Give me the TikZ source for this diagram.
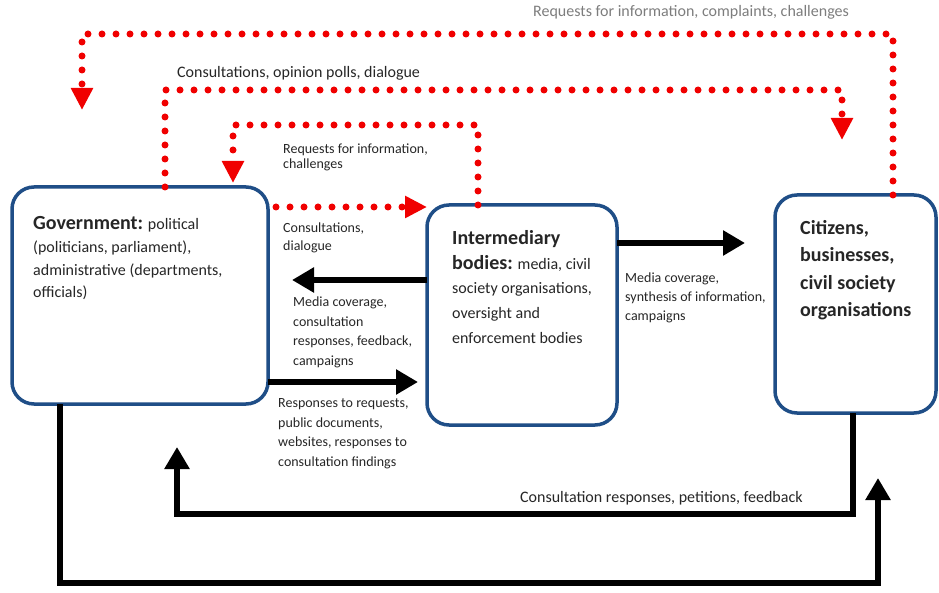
\documentclass[tikz,border=0pt]{standalone}
\usepackage{fontspec}
\setmainfont{Carlito}
\usepackage{tikz}
\usetikzlibrary{arrows.meta, positioning}
\definecolor{boxblue}{RGB}{31,78,135}
\definecolor{txtgray}{RGB}{38,38,38}
\definecolor{topgray}{RGB}{125,125,125}
\definecolor{dotred}{RGB}{240,0,0}

\begin{document}
\begin{tikzpicture}[
    x=1pt, y=-1pt,
    box/.style={
        rectangle,
        draw=boxblue,
        line width=3.5pt,
        rounded corners=22pt,
        fill=white,
        anchor=north west,
        outer sep=0pt
    },
    boxtxt/.style={anchor=base west, align=left, inner sep=0pt, text=txtgray,
        font=\fontsize{16}{23}\selectfont},
    lab/.style={anchor=base west, align=left, inner sep=0pt, text=txtgray,
        font=\fontsize{14}{19.5}\selectfont},
    biglab/.style={anchor=base west, inner sep=0pt, text=txtgray,
        font=\fontsize{16}{19}\selectfont},
    arr/.style={line width=6pt, -{Triangle[length=22pt, width=24pt]}},
    dotarr/.style={dotred, line width=7pt, line cap=round,
        dash pattern=on 0pt off 14pt, -{Triangle[length=22pt, width=21pt]}}
]
\useasboundingbox (0,0) rectangle (939,593);

% the three actors
\node[box, minimum width=256pt, minimum height=217pt] (gov)   at (12,187)  {};
\node[box, minimum width=190pt, minimum height=220pt] (inter) at (427,205) {};
\node[box, minimum width=161pt, minimum height=218pt] (cit)   at (775,195) {};

% box texts (anchored on the baseline of their last line)
\node[boxtxt, font=\fontsize{16}{22.7}\selectfont] (govtxt) at (33,298)
    {{\fontsize{20}{22.7}\selectfont\bfseries Government:} political\\(politicians, parliament),\\administrative (departments,\\officials)};
\node[boxtxt, font=\fontsize{16}{24.5}\selectfont] (intertxt) at (452,343)
    {{\fontsize{20}{24.5}\selectfont\bfseries Intermediary}\\{\fontsize{20}{24.5}\selectfont\bfseries bodies:} media, civil\\society organisations,\\oversight and\\enforcement bodies};
\node[boxtxt, font=\fontsize{20}{27.5}\selectfont\bfseries] (cittxt) at (800,317)
    {Citizens,\\businesses,\\civil society\\organisations};

% free ends of the feedback loops
\coordinate (govin1) at (82,110);
\coordinate (citin1) at (842,140);
\coordinate (govin2) at (233,183);
\coordinate (citin2) at (878,478);
\coordinate (govin3) at (177,447);

% red dotted requests and consultations
\draw[dotarr] (cit.north -| 893,0) -- (893,34) -- (82,34) -- (govin1);
\draw[dotarr] (gov.north -| 165,0) -- (165,90) -- (842,90) -- (citin1);
\draw[dotarr] (inter.north -| 478,0) -- (478,125) -- (233,125) -- (govin2);
\draw[dotarr, shorten <=8pt] (gov.east |- 0,207) -- (inter.west |- 0,207);

% black flows between the boxes
\draw[arr, shorten >=24pt] (inter.west |- 0,280) -- (gov.east |- 0,280);
\draw[arr, shorten >=9pt]  (gov.east |- 0,382) -- (inter.west |- 0,382);
\draw[arr, shorten >=30pt] (inter.east |- 0,243) -- (cit.west |- 0,243);
\draw[arr] (gov.south -| 60,0) -- (60,583) -- (878,583) -- (citin2);
\draw[arr] (cit.south -| 853,0) -- (853,514) -- (177,514) -- (govin3);

% labels (anchored on the baseline of their last line)
\node[biglab, text=topgray] (lreq1) at (533,17) {Requests for information, complaints, challenges};
\node[biglab] (lcons1) at (177,78) {Consultations, opinion polls, dialogue};
\node[lab, font=\fontsize{14}{15.5}\selectfont] (lreq2) at (283,169) {Requests for information,\\challenges};
\node[lab, font=\fontsize{14}{18}\selectfont] (lcons2) at (283,251) {Consultations,\\dialogue};
\node[lab] (lmedia1) at (293,365) {Media coverage,\\consultation\\responses, feedback,\\campaigns};
\node[lab] (lresp) at (278,466) {Responses to requests,\\public documents,\\websites, responses to\\consultation findings};
\node[lab] (lmedia2) at (625,321) {Media coverage,\\synthesis of information,\\campaigns};
\node[biglab] (lcons3) at (520,502) {Consultation responses, petitions, feedback};

\end{tikzpicture}
\end{document}
